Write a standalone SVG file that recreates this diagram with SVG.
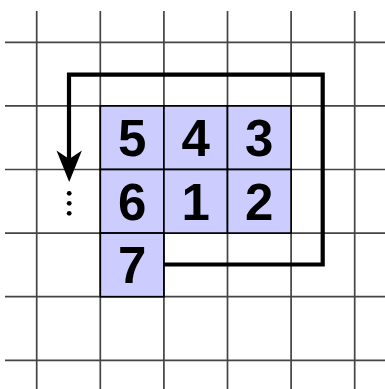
<svg xmlns="http://www.w3.org/2000/svg" width="385" height="389" viewBox="0 0 385 389">
<style>
.grid{stroke:#444;stroke-width:1.7;fill:none}
.cell{fill:#ccccff;stroke:#000;stroke-width:1.7}
.num{font-family:"Liberation Sans",Arial,sans-serif;font-weight:bold;font-size:51px;text-anchor:middle;fill:#000}
.path{fill:none;stroke:#000;stroke-width:4.2;stroke-linejoin:miter}
</style>
<rect width="385" height="389" fill="#fff"/>
<g id="grid" class="grid">
<path d="M36.7,11V389M100.3,11V389M163.9,11V389M227.5,11V389M291.1,11V389M354.7,11V389"/>
<path d="M5,42.3H385M5,105.9H385M5,169.5H385M5,233.1H385M5,296.7H385M5,360.3H385"/>
</g>
<g id="c5"><rect class="cell" x="100.3" y="105.9" width="63.6" height="63.6"/><text class="num" x="132.1" y="155.8">5</text></g>
<g id="c4"><rect class="cell" x="163.9" y="105.9" width="63.6" height="63.6"/><text class="num" x="195.7" y="155.8">4</text></g>
<g id="c3"><rect class="cell" x="227.5" y="105.9" width="63.6" height="63.6"/><text class="num" x="259.3" y="155.8">3</text></g>
<g id="c6"><rect class="cell" x="100.3" y="169.5" width="63.6" height="63.6"/><text class="num" x="132.1" y="219.6">6</text></g>
<g id="c1"><rect class="cell" x="163.9" y="169.5" width="63.6" height="63.6"/><text class="num" x="195.7" y="219.6">1</text></g>
<g id="c2"><rect class="cell" x="227.5" y="169.5" width="63.6" height="63.6"/><text class="num" x="259.3" y="219.6">2</text></g>
<g id="c7"><rect class="cell" x="100.3" y="233.1" width="63.6" height="63.6"/><text class="num" x="132.1" y="283.2">7</text></g>
<g id="connectors">
<path class="path" d="M163.9,264.5H322.7V74.7H69V160"/>
<polygon points="69.2,182 56.5,150.5 69.2,159 81.9,150.5" fill="#000"/>
</g>
<g id="dots" fill="#000">
<circle cx="69.2" cy="193.3" r="2.4"/>
<circle cx="69.2" cy="203.3" r="2.4"/>
<circle cx="69.2" cy="213.3" r="2.4"/>
</g>
</svg>
